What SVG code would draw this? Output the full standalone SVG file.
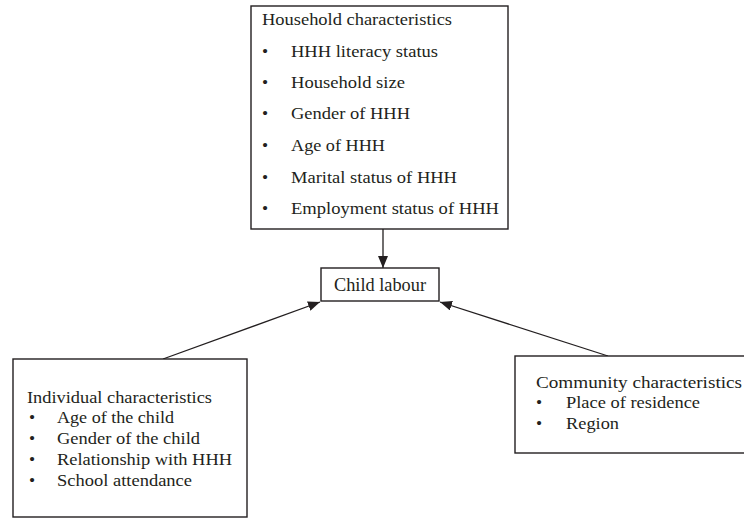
<svg xmlns="http://www.w3.org/2000/svg" width="744" height="519" viewBox="0 0 744 519">
<style>
.box{fill:#fff;stroke:#231f20;stroke-width:1.4}
.t{font-family:"Liberation Serif","Times New Roman",serif;fill:#231f20}
.c{stroke:#231f20;stroke-width:1.3;fill:none}
</style>
<defs>
<marker id="ah" viewBox="0 0 12 10" refX="12" refY="5" markerWidth="12" markerHeight="10" markerUnits="userSpaceOnUse" orient="auto">
<path d="M0,0 L12,5 L0,10 z" fill="#231f20"/>
</marker>
</defs>
<rect width="744" height="519" fill="#fff"/>
<g id="connectors">
<line class="c" x1="383" y1="229" x2="383" y2="268" marker-end="url(#ah)"/>
<line class="c" x1="163" y1="359" x2="320" y2="302" marker-end="url(#ah)"/>
<line class="c" x1="608" y1="356" x2="440" y2="302" marker-end="url(#ah)"/>
</g>
<g id="household">
<rect class="box" x="251" y="6" width="257" height="223"/>
<g class="t" font-size="17.5">
<text x="262" y="25" textLength="190" lengthAdjust="spacingAndGlyphs">Household characteristics</text>
<text x="265" y="57" text-anchor="middle">•</text>
<text x="265" y="88" text-anchor="middle">•</text>
<text x="265" y="119" text-anchor="middle">•</text>
<text x="265" y="151" text-anchor="middle">•</text>
<text x="265" y="183" text-anchor="middle">•</text>
<text x="265" y="214" text-anchor="middle">•</text>
<text x="291" y="57" textLength="147" lengthAdjust="spacingAndGlyphs">HHH literacy status</text>
<text x="291" y="88" textLength="114" lengthAdjust="spacingAndGlyphs">Household size</text>
<text x="291" y="119" textLength="119" lengthAdjust="spacingAndGlyphs">Gender of HHH</text>
<text x="291" y="151" textLength="94" lengthAdjust="spacingAndGlyphs">Age of HHH</text>
<text x="291" y="183" textLength="166" lengthAdjust="spacingAndGlyphs">Marital status of HHH</text>
<text x="291" y="214" textLength="208" lengthAdjust="spacingAndGlyphs">Employment status of HHH</text>
</g>
</g>
<g id="child-labour">
<rect class="box" x="321" y="268" width="118" height="33"/>
<text class="t" font-size="18" x="334" y="291" textLength="92" lengthAdjust="spacingAndGlyphs">Child labour</text>
</g>
<g id="individual">
<rect class="box" x="13" y="359" width="234" height="158"/>
<g class="t" font-size="17.5">
<text x="27" y="403" textLength="185" lengthAdjust="spacingAndGlyphs">Individual characteristics</text>
<text x="32" y="423" text-anchor="middle">•</text>
<text x="32" y="444" text-anchor="middle">•</text>
<text x="32" y="465" text-anchor="middle">•</text>
<text x="32" y="486" text-anchor="middle">•</text>
<text x="57" y="423" textLength="117" lengthAdjust="spacingAndGlyphs">Age of the child</text>
<text x="57" y="444" textLength="143" lengthAdjust="spacingAndGlyphs">Gender of the child</text>
<text x="57" y="465" textLength="175" lengthAdjust="spacingAndGlyphs">Relationship with HHH</text>
<text x="57" y="486" textLength="135" lengthAdjust="spacingAndGlyphs">School attendance</text>
</g>
</g>
<g id="community">
<rect class="box" x="515" y="356" width="232" height="97"/>
<g class="t" font-size="17.5">
<text x="536" y="388" textLength="206" lengthAdjust="spacingAndGlyphs">Community characteristics</text>
<text x="539" y="408" text-anchor="middle">•</text>
<text x="539" y="429" text-anchor="middle">•</text>
<text x="566" y="408" textLength="134" lengthAdjust="spacingAndGlyphs">Place of residence</text>
<text x="566" y="429" textLength="53" lengthAdjust="spacingAndGlyphs">Region</text>
</g>
</g>
</svg>
